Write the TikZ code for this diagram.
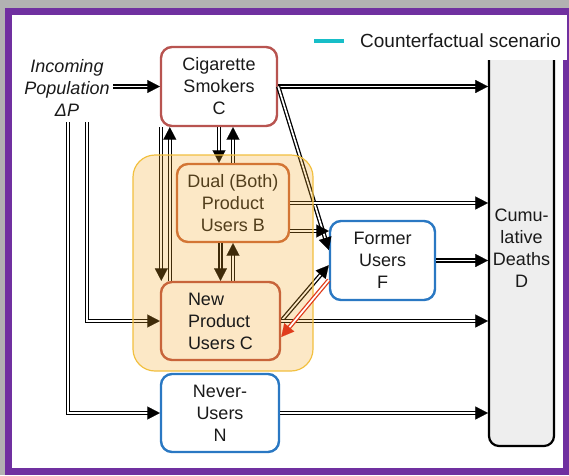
\documentclass[tikz,border=0pt]{standalone}
\usepackage{fontspec}
\setmainfont{Liberation Sans}
\usetikzlibrary{arrows.meta,decorations.markings}

\definecolor{frameviolet}{HTML}{7030A0}
\definecolor{framegray}{HTML}{B2B2B2}
\definecolor{smokered}{HTML}{B85450}
\definecolor{dualbrown}{HTML}{C8643A}
\definecolor{userblue}{HTML}{2A78C3}
\definecolor{groupfill}{RGB}{245,168,35}
\definecolor{groupedge}{HTML}{F2C040}
\definecolor{npfill}{RGB}{252,231,197}
\definecolor{deathgray}{HTML}{EEEEEE}
\definecolor{cfcyan}{HTML}{17BEC8}
\definecolor{backflow}{HTML}{E03C1C}
\definecolor{inktext}{HTML}{1A1A1A}

\pgfdeclarelayer{frame}
\pgfdeclarelayer{lower}
\pgfdeclarelayer{flows}
\pgfdeclarelayer{tint}
\pgfsetlayers{frame,lower,flows,tint,main}

\begin{document}
\begin{tikzpicture}[x=1pt, y=-1pt,
  font=\fontsize{18}{22}\selectfont,
  box/.style={draw, rounded corners=11pt, line width=2.4pt, align=center,
    inner sep=0pt, text=inktext},
  flow/.style={double, double distance=1.7pt, line width=1.3pt, shorten >=8pt,
    postaction={decorate, decoration={markings, mark=at position 1 with
      {\pgfsetinnerlinewidth{0pt}\arrow{Triangle[length=12.5pt,width=13pt,line width=0.1pt]}}}}},
]
\useasboundingbox (0,0) rectangle (569,475);

% slide frame
\begin{pgfonlayer}{frame}
\fill[framegray] (0,0) rectangle (569,475);
\fill[frameviolet] (5,8) rectangle (569,475);
\fill[white] (12,15) rectangle (563,468);
\end{pgfonlayer}

% stocks that sit below the product group tint
\begin{pgfonlayer}{lower}
\node[box, draw=black, fill=deathgray, line width=2.2pt, rounded corners=10pt,
  minimum width=65pt, minimum height=416pt] (D) at (521.5,238) {};
\node[text=inktext, align=center] (Dtxt) at (521.5,248) {Cumu-\\lative\\Deaths\\D};

\node[box, draw=smokered, fill=white, minimum width=116pt, minimum height=79pt]
  (C) at (219,86.5) {Cigarette\\Smokers\\C};
\node[box, draw=dualbrown, fill=white, minimum width=112pt, minimum height=78pt]
  (B) at (233,203) {Dual (Both)\\Product\\Users B};
\node[box, draw=userblue, fill=white, minimum width=105pt, minimum height=79pt]
  (F) at (382.5,260.5) {Former\\Users\\F};
\node[box, draw=userblue, fill=white, minimum width=118pt, minimum height=78pt]
  (N) at (220,413) {Never-\\Users\\N};

\node[text=inktext, align=center, font=\fontsize{18}{22}\selectfont\itshape]
  (inc) at (67,88) {Incoming\\Population\\ΔP};
\end{pgfonlayer}
\coordinate (dpA) at (68,122);
\coordinate (dpB) at (87,122);

% new product users, above the tint
\node[box, draw=dualbrown, fill=npfill, align=left, minimum width=119pt, minimum height=78pt]
  (NP) at (220.5,321) {New\\Product\\Users C};

% product group tint
\begin{pgfonlayer}{tint}
\node[rounded corners=22pt, fill=groupfill, fill opacity=0.26, draw=groupedge,
  draw opacity=1, line width=1.2pt, minimum width=180pt, minimum height=216pt]
  (grp) at (223,263) {};
\end{pgfonlayer}

% flows between stocks
\begin{pgfonlayer}{flows}
\draw[flow] (inc.east |- C.west) -- (C.west);
\draw[flow] (dpB) |- (NP.west);
\draw[flow] (dpA) |- (N.west);
\draw[flow] (C.east) -- (C.east -| D.west);
\draw[flow] (C.east) -- (F.169);
\draw[flow] (C.south) -- (C.south |- B.north);
\draw[flow] (B.north) -- (B.north |- C.south);
\draw[flow] ([xshift=1.5pt]C.south west) -- ([xshift=1.5pt]C.south west |- NP.north);
\draw[flow] ([xshift=10pt]NP.north west) -- ([xshift=10pt]NP.north west |- C.south);
\draw[flow] (B.south -| NP.north) -- (NP.north);
\draw[flow] (NP.north -| B.south) -- (B.south);
\draw[flow] (B.east) -- (B.east -| D.west);
\draw[flow] ([yshift=-28pt]B.east) -- ([yshift=-28pt]B.east -| F.west);
\draw[flow] (F.east) -- (F.east -| D.west);
\draw[flow] (NP.east) -- (F.185);
\draw[flow] (NP.east) -- (NP.east -| D.west);
\draw[flow] (N.east) -- (N.east -| D.west);
\end{pgfonlayer}

% flow back from former users
\draw[flow, color=backflow] (F.200) -- ([yshift=-16pt]NP.east);

% legend
\fill[white] (305,15) rectangle (567,60);
\coordinate (lgA) at (314,41);
\coordinate (lgB) at (344,41);
\draw[cfcyan, line width=4pt] (lgA) -- (lgB);
\node[anchor=west, text=inktext, font=\fontsize{19}{22}\selectfont, inner sep=0pt]
  (lgtext) at (360,41) {Counterfactual scenario};
\end{tikzpicture}
\end{document}
